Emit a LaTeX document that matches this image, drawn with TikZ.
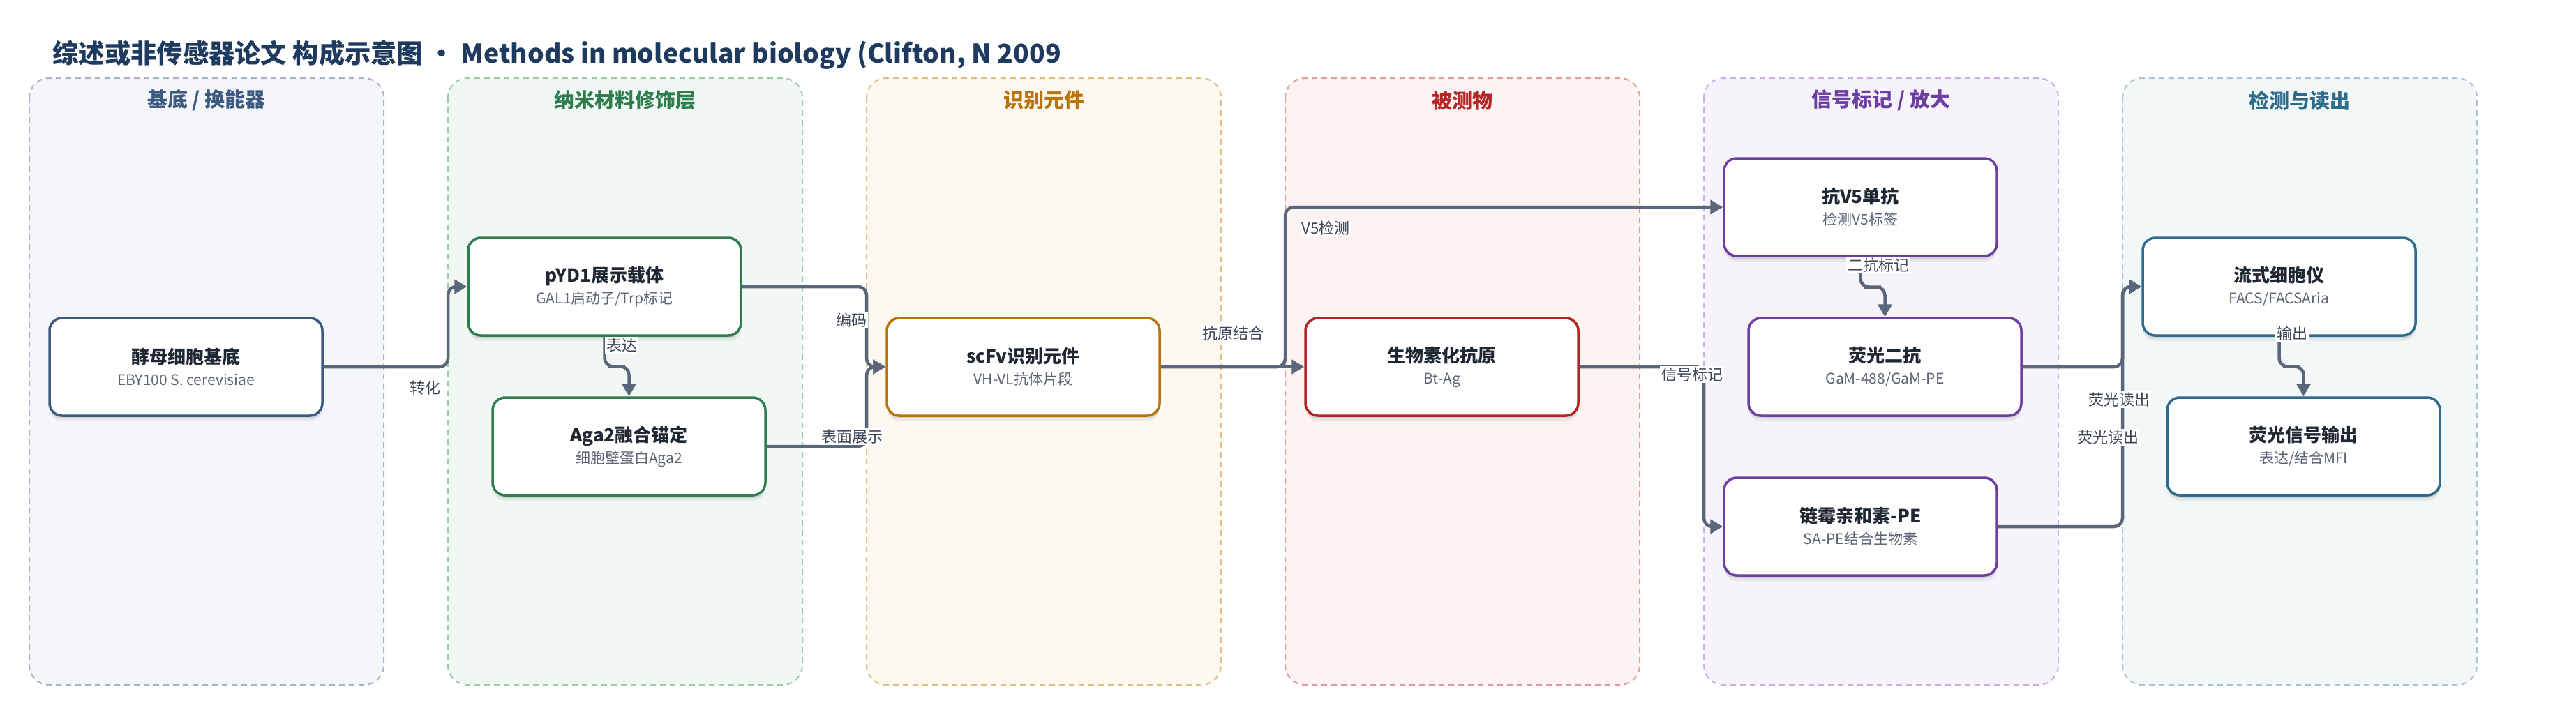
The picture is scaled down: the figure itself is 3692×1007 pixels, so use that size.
\documentclass[tikz,border=0pt]{standalone}
\usepackage{fontspec}
\setmainfont{Noto Sans CJK SC}
\usetikzlibrary{arrows.meta,shadows,calc}

\definecolor{titlecol}{HTML}{1E3A5F}
\definecolor{edgecol}{HTML}{5A677A}
\definecolor{labelcol}{HTML}{3C4656}
\definecolor{namecol}{HTML}{1F2733}
\definecolor{subcol}{HTML}{5B6575}
\definecolor{baseline}{HTML}{3D5A80}\definecolor{basefill}{HTML}{F5F6FA}\definecolor{basedash}{HTML}{A8B4C8}
\definecolor{nanoline}{HTML}{2E7D4E}\definecolor{nanofill}{HTML}{F1F8F3}\definecolor{nanodash}{HTML}{9DCAAA}
\definecolor{recline}{HTML}{B8730C}\definecolor{recfill}{HTML}{FDF8F0}\definecolor{recdash}{HTML}{E2BF80}
\definecolor{anaLine}{HTML}{B42525}\definecolor{anafill}{HTML}{FDF3F3}\definecolor{anadash}{HTML}{E69C9C}
\definecolor{sigline}{HTML}{6B40A2}\definecolor{sigfill}{HTML}{F7F3FB}\definecolor{sigdash}{HTML}{C8B2E2}
\definecolor{readline}{HTML}{2E6C8B}\definecolor{readfill}{HTML}{F2F7F8}\definecolor{readdash}{HTML}{A8C6D1}

\tikzset{
  lane/.style 2 args={draw=#1, fill=#2, line width=2pt, dash pattern=on 8pt off 6pt, rounded corners=28pt},
  lanehead/.style={text=#1, font=\fontsize{29}{34}\selectfont\bfseries},
  block/.style={draw=#1, fill=white, line width=3.5pt, rounded corners=18pt,
    minimum width=391pt, minimum height=140pt, align=center, text=namecol,
    font=\fontsize{21}{31}\selectfont,
    drop shadow={shadow xshift=0pt, shadow yshift=-4pt, opacity=0.10, fill=black},
    drop shadow={shadow xshift=0pt, shadow yshift=-8pt, opacity=0.06, fill=black}},
  flow/.style={draw=edgecol, line width=4.5pt, rounded corners=12pt, -{Triangle[length=18pt,width=20pt]}},
  flowlabel/.style={fill=white, inner sep=2pt, text=labelcol, font=\fontsize{22}{26}\selectfont}
}
\newcommand{\blocktext}[2]{{\fontsize{26}{31}\selectfont\bfseries #1}\\{\color{subcol}#2}}

\begin{document}
\begin{tikzpicture}[x=1pt, y=-1pt]

\fill[white] (0,0) rectangle (3692,1007);
\useasboundingbox (0,0) rectangle (3692,1007);

%% title
\node[anchor=base west, text=titlecol, font=\fontsize{37.3}{44}\selectfont\bfseries] (title) at (72,90)
  {综述或非传感器论文 构成示意图 • Methods in molecular biology (Clifton, N 2009};

%% columns
\draw[lane={basedash}{basefill}] (42,112) rectangle (550,982);     %% substrate
\draw[lane={nanodash}{nanofill}] (642,112) rectangle (1150,982);   %% nano layer
\draw[lane={recdash}{recfill}] (1242,112) rectangle (1750,982);    %% recognition
\draw[lane={anadash}{anafill}] (1842,112) rectangle (2350,982);    %% analyte
\draw[lane={sigdash}{sigfill}] (2442,112) rectangle (2950,982);    %% signal
\draw[lane={readdash}{readfill}] (3042,112) rectangle (3550,982);  %% readout

%% column headers
\node[lanehead=baseline] (headA) at (296,144) {基底 / 换能器};
\node[lanehead=nanoline] (headB) at (896,144) {纳米材料修饰层};
\node[lanehead=recline] (headC) at (1496,144) {识别元件};
\node[lanehead=anaLine] (headD) at (2096,144) {被测物};
\node[lanehead=sigline] (headE) at (2696,144) {信号标记 / 放大};
\node[lanehead=readline] (headF) at (3296,144) {检测与读出};

%% lane entry points
\coordinate (jB) at (642,0);
\coordinate (jC) at (1242,0);
\coordinate (jD) at (1842,0);
\coordinate (jE) at (2442,0);
\coordinate (jF) at (3042,0);

%% blocks
\node[block=baseline] (yeast) at (266.5,526) {\blocktext{酵母细胞基底}{EBY100 S. cerevisiae}};
\node[block=nanoline] (pyd) at (866.5,411) {\blocktext{pYD1展示载体}{GAL1启动子/Trp标记}};
\node[block=nanoline] (aga) at (901.5,640) {\blocktext{Aga2融合锚定}{细胞壁蛋白Aga2}};
\node[block=recline] (scfv) at (1466.5,526) {\blocktext{scFv识别元件}{VH-VL抗体片段}};
\node[block=anaLine] (antigen) at (2066.5,526) {\blocktext{生物素化抗原}{Bt-Ag}};
\node[block=sigline] (vfive) at (2666.5,297) {\blocktext{抗V5单抗}{检测V5标签}};
\node[block=sigline] (gam) at (2701.5,526) {\blocktext{荧光二抗}{GaM-488/GaM-PE}};
\node[block=sigline] (sape) at (2666.5,755) {\blocktext{链霉亲和素-PE}{SA-PE结合生物素}};
\node[block=readline] (facs) at (3266.5,411) {\blocktext{流式细胞仪}{FACS/FACSAria}};
\node[block=readline] (mfi) at (3301.5,640) {\blocktext{荧光信号输出}{表达/结合MFI}};

%% edges
\draw[flow] (yeast.east) -- (yeast.east -| jB) -- (pyd.west -| jB) -- (pyd.west);        %% transform
\draw[flow] (pyd.south) |- ($(pyd.south)!.5!(aga.north)$) -| (aga.north);                %% express
\draw[flow] (pyd.east) -- (pyd.east -| jC) -- (scfv.west -| jC) -- (scfv.west);           %% encode
\draw[flow] (aga.east) -- (aga.east -| jC) -- (scfv.west -| jC) -- (scfv.west);           %% display
\draw[flow] (scfv.east) -- (antigen.west);                                                %% binding
\draw[flow] (scfv.east) -- (scfv.east -| jD) -- (vfive.west -| jD) -- (vfive.west);       %% V5
\draw[flow] (antigen.east) -- (antigen.east -| jE) -- (sape.west -| jE) -- (sape.west);   %% biotin label
\draw[flow] (vfive.south) |- ($(vfive.south)!.5!(gam.north)$) -| (gam.north);            %% secondary
\draw[flow] (gam.east) -- (gam.east -| jF) -- (facs.west -| jF) -- (facs.west);           %% readout
\draw[flow] (sape.east) -- (sape.east -| jF) -- (facs.west -| jF) -- (facs.west);         %% readout
\draw[flow] (facs.south) |- ($(facs.south)!.5!(mfi.north)$) -| (mfi.north);              %% output

%% edge labels
\node[flowlabel] (lTrans) at (609,556) {转化};
\node[flowlabel] (lExpr) at (891,495) {表达};
\node[flowlabel] (lCode) at (1220,459) {编码};
\node[flowlabel] (lShow) at (1221,626) {表面展示};
\node[flowlabel] (lBind) at (1767,478) {抗原结合};
\node[flowlabel] (lVfive) at (1900,327) {V5检测};
\node[flowlabel] (lMark) at (2425,537) {信号标记};
\node[flowlabel] (lSec) at (2692,380) {二抗标记};
\node[flowlabel] (lReadA) at (3037,573) {荧光读出};
\node[flowlabel] (lReadB) at (3021,627) {荧光读出};
\node[flowlabel] (lOut) at (3285,478) {输出};

\end{tikzpicture}
\end{document}
